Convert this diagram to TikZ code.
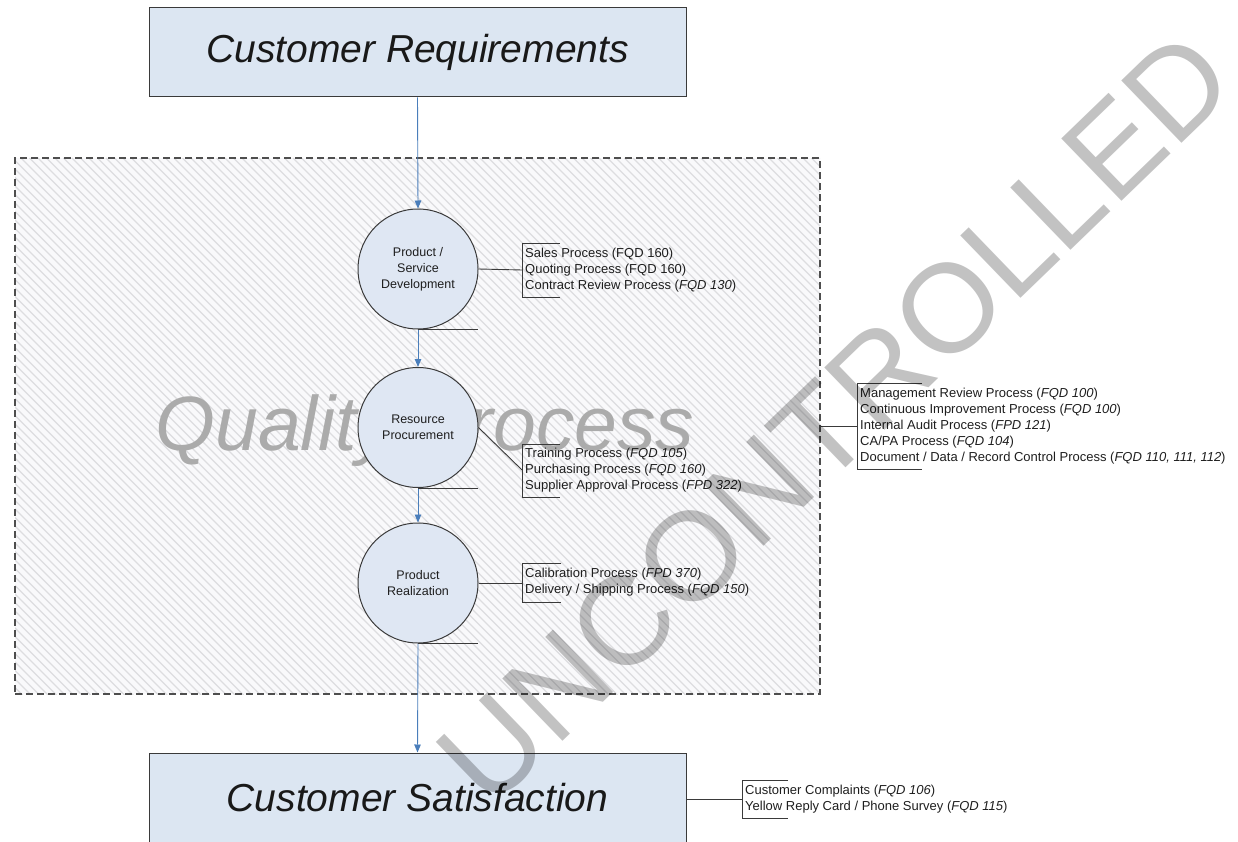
\documentclass[tikz,border=0pt]{standalone}
\usepackage{fontspec}
\setmainfont{Liberation Sans}
\usetikzlibrary{arrows.meta}
\definecolor{boxfill}{HTML}{DCE6F2}
\definecolor{circfill}{HTML}{DFE7F3}
\definecolor{edge}{HTML}{3A3A3A}
\definecolor{flow}{HTML}{4A7EBB}
\definecolor{hatchbg}{HTML}{F9F9FB}
\definecolor{hatchln}{HTML}{DDDDE0}
\definecolor{qtext}{HTML}{ABABAB}
\definecolor{ctext}{HTML}{1E1E1E}
\tikzset{
  titlebox/.style={draw=edge, line width=1pt, fill=boxfill, minimum width=537pt, minimum height=89pt, inner sep=0pt,
    font=\fontsize{39}{44}\selectfont\itshape, text=black!90},
  proc/.style={circle, draw=edge, line width=1pt, fill=circfill, minimum size=120pt, inner sep=0pt,
    align=center, font=\fontsize{12.5}{16}\selectfont, text=ctext},
  flowarrow/.style={draw=flow, line width=0.9pt, -{Triangle[length=8pt,width=6.5pt]}},
  callout/.style={draw=edge, line width=0.9pt},
  calltext/.style={anchor=west, inner sep=0pt, align=left, font=\fontsize{13}{16}\selectfont, text=ctext},
  qpbox/.style={draw=edge!90, line width=1.2pt, dash pattern=on 7pt off 4pt, minimum width=805pt, minimum height=536pt, inner sep=0pt},
}
\newcommand{\fq}[1]{\textit{#1}}
\begin{document}
\begin{tikzpicture}[x=1pt,y=-1pt]
\useasboundingbox (0,0) rectangle (1238,842);
\begin{scope}
\clip (0,0) rectangle (1238,842);
% hatched background of the quality process area
\begin{scope}
  \clip (15,158) rectangle (820,694);
  \fill[hatchbg] (15,158) rectangle (820,694);
  \foreach \c in {-540,-531.5,...,830} \draw[hatchln, line width=1.3pt] (\c,158) -- ++(540,540);
\end{scope}
\node[qpbox] (qp) at (417.5,426) {};
\node[anchor=base, font=\fontsize{77}{80}\selectfont\itshape, text=qtext] (qlabel) at (425,450) {Quality Process};

% main boxes
\node[titlebox] (req) at (417.5,52.5) {Customer Requirements};
\node[titlebox, minimum height=90pt] (sat) at (417.5,798) {Customer Satisfaction};

% process circles
\node[proc] (c1) at (418,269) {Product /\\Service\\Development};
\node[proc] (c2) at (418,427.5) {Resource\\Procurement};
\node[proc] (c3) at (418,583) {Product\\Realization};

% flow arrows
\draw[flowarrow] (req.south) -- (c1.north);
\draw[flowarrow] (c1.south) -- (c2.north);
\draw[flowarrow] (c2.south) -- (c3.north);
\draw[flowarrow] (c3.south) -- (sat.north);

% underlines
\draw[callout] (c1.south) -- ++(60,0);
\draw[callout] (c2.south) -- ++(60,0);
\draw[callout] (c3.south) -- ++(60,0);

% callout 1
\coordinate (b1) at (522,270);
\draw[callout] (560,243) -- (522,243) -- (522,297) -- (560,297);
\draw[callout] (c1.east) -- (b1);
\node[calltext] (t1) at (525,270) {Sales Process (FQD 160)\\Quoting Process (FQD 160)\\Contract Review Process (\fq{FQD 130})};

% callout 2
\coordinate (b2) at (522,470);
\draw[callout] (560,444) -- (522,444) -- (522,497) -- (560,497);
\draw[callout] (c2.east) -- (b2);
\node[calltext] (t2) at (525,470.5) {Training Process (\fq{FQD 105})\\Purchasing Process (\fq{FQD 160})\\Supplier Approval Process (\fq{FPD 322})};

% callout 3
\coordinate (b3) at (522,583);
\draw[callout] (561,563) -- (522,563) -- (522,602) -- (561,602);
\draw[callout] (c3.east) -- (b3);
\node[calltext] (t3) at (525,582.5) {Calibration Process (\fq{FPD 370})\\Delivery / Shipping Process (\fq{FQD 150})};

% callout 4
\coordinate (b4) at (857,426);
\draw[callout] (922,383) -- (857,383) -- (857,469) -- (922,469);
\draw[callout] (qp.east) -- (b4);
\node[calltext] (t4) at (860,426) {Management Review Process (\fq{FQD 100})\\Continuous Improvement Process (\fq{FQD 100})\\Internal Audit Process (\fq{FPD 121})\\CA/PA Process (\fq{FQD 104})\\Document / Data / Record Control Process (\fq{FQD 110, 111, 112})};

% callout 5
\coordinate (b5) at (742,799);
\draw[callout] (788,780) -- (742,780) -- (742,818) -- (788,818);
\draw[callout] (sat.east |- b5) -- (b5);
\node[calltext] (t5) at (745,799) {Customer Complaints (\fq{FQD 106})\\Yellow Reply Card / Phone Survey (\fq{FQD 115})};

% watermark
\node[rotate=44, font=\fontsize{126}{126}\selectfont, text=black, text opacity=0.24, inner sep=0pt] (wm) at (835,418) {UNCONTROLLED};
\end{scope}
\end{tikzpicture}
\end{document}
